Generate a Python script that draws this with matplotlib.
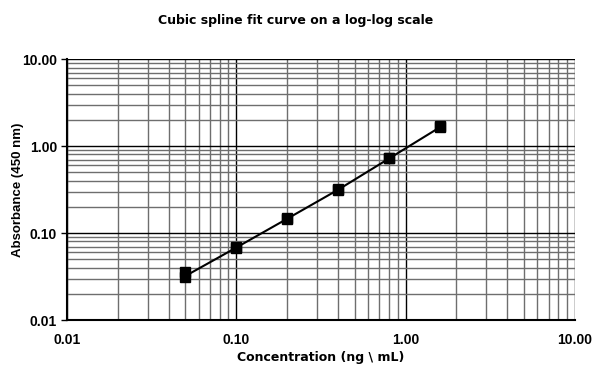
import numpy as np
import matplotlib
matplotlib.use("Agg")
import matplotlib.pyplot as plt
from matplotlib.ticker import FuncFormatter, LogLocator

plt.rcParams['font.family'] = ['Liberation Sans', 'DejaVu Sans']

# standards (duplicate readings)
conc = [0.05, 0.05, 0.1, 0.1, 0.2, 0.2, 0.4, 0.4, 0.8, 0.8, 1.6, 1.6]
absorb = [0.036, 0.031, 0.070, 0.068, 0.148, 0.145, 0.32, 0.31, 0.73, 0.72, 1.68, 1.66]

# fitted curve
fit_x = [0.05, 0.1, 0.2, 0.4, 0.8, 1.6]
fit_y = [0.032, 0.068, 0.146, 0.315, 0.72, 1.65]

fig = plt.figure(figsize=(5.92, 3.67), dpi=100)
ax = fig.add_axes([0.113, 0.128, 0.858, 0.711])

ax.plot(fit_x, fit_y, color='black', lw=1.5, zorder=3)
ax.plot(conc, absorb, ls='none', marker='s', ms=7, color='black', zorder=4)

ax.set_xscale('log')
ax.set_yscale('log')
ax.set_xlim(0.01, 10)
ax.set_ylim(0.01, 10)

fmt = FuncFormatter(lambda v, p: '%.2f' % v)
ax.xaxis.set_major_formatter(fmt)
ax.yaxis.set_major_formatter(fmt)
ax.xaxis.set_minor_locator(LogLocator(base=10, subs=np.arange(2, 10)))
ax.yaxis.set_minor_locator(LogLocator(base=10, subs=np.arange(2, 10)))
ax.xaxis.set_minor_formatter(FuncFormatter(lambda v, p: ''))
ax.yaxis.set_minor_formatter(FuncFormatter(lambda v, p: ''))

ax.grid(which='major', color='black', lw=1.0)
ax.grid(which='minor', color='#6e6e6e', lw=1.0)
ax.set_axisbelow(True)

for s in ['top', 'right']:
    ax.spines[s].set_visible(False)
ax.spines['left'].set_linewidth(1.5)
ax.spines['bottom'].set_linewidth(1.5)

ax.tick_params(which='major', length=4, width=1, labelsize=10, pad=3)
ax.tick_params(which='minor', length=0)
ax.tick_params(axis='x', which='major', length=0, pad=9)
for lab in ax.get_xticklabels() + ax.get_yticklabels():
    lab.set_fontweight('bold')

ax.set_xlabel('Concentration (ng \\ mL)', fontsize=9, fontweight='bold',
              family='DejaVu Sans')
ax.xaxis.set_label_coords(0.5, -0.118)
ax.set_ylabel('Absorbance (450 nm)', fontsize=9.5, fontweight='bold')
ax.yaxis.set_label_coords(-0.085, 0.5)
fig.suptitle('Cubic spline fit curve on a log-log scale', fontsize=9,
             fontweight='bold', family='DejaVu Sans', y=0.962)

fig.savefig('out.png', dpi=100)
